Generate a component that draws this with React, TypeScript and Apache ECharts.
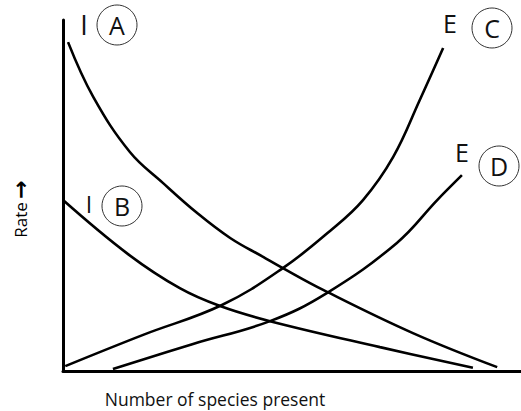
import React, { useEffect, useRef } from "react";
import * as echarts from "echarts";

// Immigration / extinction rate curves (x: number of species, y: rate), units 0-100
const curveA: [number, number][] = [
  [1.1, 93.7], [6.6, 78.1], [14.6, 62.4], [21.8, 53.6], [29.3, 45.0], [36.5, 37.9],
  [43.7, 32.5], [48.0, 29.3], [56.8, 23.1], [76.4, 10.8], [94.8, 1.1],
];
const curveB: [number, number][] = [
  [0, 48.7], [14.2, 33.3], [25.5, 23.6], [34.3, 18.5], [45.2, 14.2], [69.2, 6.8], [89.5, 0.9],
];
const curveC: [number, number][] = [
  [0.5, 1.4], [17.5, 10.3], [34.7, 18.8], [48.0, 29.3], [58.3, 39.9], [65.5, 48.7],
  [72.1, 61.0], [77.9, 77.2], [83.0, 92.0],
];
const curveD: [number, number][] = [
  [10.9, 0.6], [28.4, 7.7], [45.2, 14.2], [57.6, 22.2], [72.9, 36.5], [81.7, 48.7], [87.1, 55.8],
];

const xAxisTitle = "Number of species present";
const yAxisTitle = "Rate";
const curveLetters = ["A", "B", "C", "D"];
const curveTags = ["I", "I", "E", "E"];

const FONT = "'Open Sans', 'Noto Sans', sans-serif";

export default function App() {
  const ref = useRef<HTMLDivElement>(null);
  useEffect(() => {
    if (!ref.current) return;
    const chart = echarts.init(ref.current, null, { renderer: "svg" });
    const lineStyle = { color: "#000", width: 2.6 };
    const mk = (data: [number, number][]) => ({
      type: "line",
      data,
      smooth: 0.4,
      symbol: "none",
      lineStyle,
      silent: true,
    });
    const tagPos = [
      { tx: 84, ty: 24, cx: 117, cy: 25, fs: 27 },
      { tx: 89, ty: 204, cx: 122, cy: 206, fs: 23 },
      { tx: 450, ty: 23, cx: 492, cy: 28, fs: 25 },
      { tx: 462, ty: 152, cx: 499, cy: 166, fs: 25 },
    ];
    const graphics: any[] = [];
    curveLetters.forEach((l, i) => {
      const p = tagPos[i];
      graphics.push({
        type: "text",
        x: p.tx,
        y: p.ty,
        style: { text: curveTags[i], font: `${p.fs}px ${FONT}`, fill: "#111", textAlign: "center", textVerticalAlign: "middle" },
      });
      graphics.push({
        type: "circle",
        shape: { cx: p.cx, cy: p.cy, r: 20 },
        style: { fill: "none", stroke: "#333", lineWidth: 1 },
      });
      graphics.push({
        type: "text",
        x: p.cx,
        y: p.cy,
        style: { text: l, font: `25px ${FONT}`, fill: "#111", textAlign: "center", textVerticalAlign: "middle" },
      });
    });
    graphics.push({
      type: "text",
      x: 215,
      y: 399,
      style: { text: xAxisTitle, font: `17.5px ${FONT}`, fill: "#111", textAlign: "center", textVerticalAlign: "middle" },
    });
    graphics.push({
      type: "text",
      x: 20,
      y: 209,
      rotation: Math.PI / 2,
      style: {
        text: `{a|${yAxisTitle}} {b|\u2192}`,
        textAlign: "center",
        textVerticalAlign: "middle",
        rich: {
          a: { fontFamily: FONT, fontSize: 17, color: "#111" },
          b: { fontFamily: "'DejaVu Sans', sans-serif", fontSize: 22, fontWeight: "bold", color: "#111" },
        },
      },
    });
    chart.setOption({
      animation: false,
      backgroundColor: "#fff",
      grid: { left: 63, right: 0, top: 20, bottom: 40 },
      xAxis: {
        type: "value",
        min: 0,
        max: 100,
        axisLine: { show: true, lineStyle: { color: "#000", width: 3 } },
        axisTick: { show: false },
        axisLabel: { show: false },
        splitLine: { show: false },
      },
      yAxis: {
        type: "value",
        min: 0,
        max: 100,
        axisLine: { show: true, lineStyle: { color: "#000", width: 3 } },
        axisTick: { show: false },
        axisLabel: { show: false },
        splitLine: { show: false },
      },
      series: [mk(curveA), mk(curveB), mk(curveC), mk(curveD)],
      graphic: graphics,
    });
    return () => chart.dispose();
  }, []);
  return (
    <div
      ref={ref}
      style={{ position: "fixed", left: 0, top: 0, width: 521, height: 411, background: "#fff" }}
    />
  );
}
